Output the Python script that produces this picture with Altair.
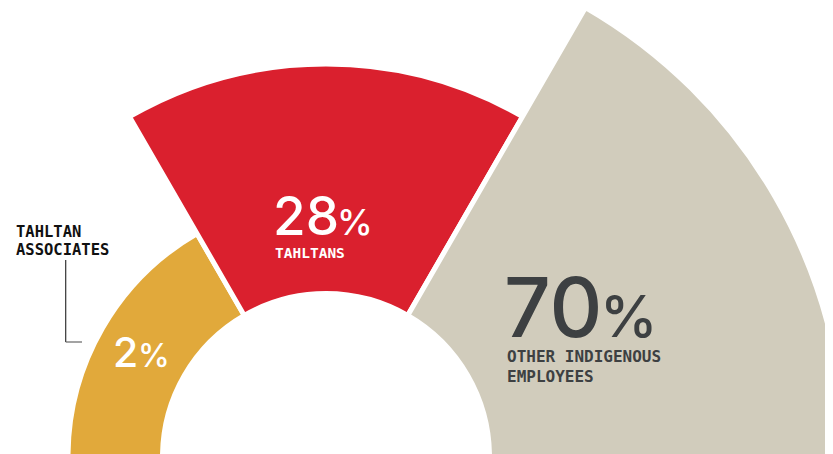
import math
import altair as alt
import pandas as pd

# ---- data ----
categories = ["Tahltan Associates", "Tahltans", "Other Indigenous Employees"]
values = [2, 28, 70]
names = ["TAHLTAN\nASSOCIATES", "TAHLTANS", "OTHER INDIGENOUS\nEMPLOYEES"]
colors = ["#E1A93B", "#DA202E", "#D1CCBC"]

df = pd.DataFrame({
    "category": categories,
    "value": values,
    "num": [str(v) for v in values],
    "pct": ["%"] * 3,
    "name": names,
    "order": [0, 1, 2],
    "slot": [1, 1, 1],
})

CX, CY = 318, 449
NUM_FONT = "Inter"
MONO = "DejaVu Sans Mono"

base = alt.Chart(df)

arcs = base.transform_window(
    end="sum(slot)", sort=[alt.SortField("order")], frame=[None, 0]
).transform_calculate(
    start="datum.end - datum.slot"
).mark_arc(innerRadius=163.5, stroke="white", strokeWidth=5).encode(
    theta=alt.Theta("start:Q",
                    scale=alt.Scale(domain=[0, 3], range=[-math.pi / 2, math.pi / 2])),
    theta2="end:Q",
    radius=alt.Radius("value:Q",
                      scale=alt.Scale(type="linear", zero=False,
                                      domain=[2, 28, 70], range=[258, 393, 519])),
    color=alt.Color("category:N", scale=alt.Scale(domain=categories, range=colors),
                    legend=None),
    x=alt.value(CX),
    y=alt.value(CY),
)


def txt(cat, field, x, y, size, color, font, weight=500, line_height=None):
    kw = dict(align="left", baseline="alphabetic", fontSize=size, font=font,
              fontWeight=weight, color=color, lineBreak="\n")
    if line_height:
        kw["lineHeight"] = line_height
    return base.transform_filter(alt.datum.category == cat).mark_text(**kw).encode(
        text=alt.Text(f"{field}:N"), x=alt.value(x), y=alt.value(y))


DARK = "#3D4042"
layers = [
    arcs,
    # Tahltans
    txt(categories[1], "num", 265, 227, 53, "white", NUM_FONT),
    txt(categories[1], "pct", 329, 227, 36, "white", NUM_FONT),
    txt(categories[1], "name", 267, 250, 14.5, "white", MONO, "bold"),
    # Other indigenous
    txt(categories[2], "num", 496, 329, 82, DARK, NUM_FONT),
    txt(categories[2], "pct", 592, 329, 58, DARK, NUM_FONT),
    txt(categories[2], "name", 499, 354, 16, DARK, MONO, "bold", 20),
    # Associates
    txt(categories[0], "num", 105, 359, 41, "white", NUM_FONT),
    txt(categories[0], "pct", 130, 359, 32, "white", NUM_FONT),
    txt(categories[0], "name", 8, 229, 15.5, "#111111", MONO, "bold", 18),
]

leader_v = alt.Chart(df.head(1)).mark_rule(color="#333333", strokeWidth=1.2).encode(
    x=alt.value(57.7), y=alt.value(252), y2=alt.value(334))
leader_h = alt.Chart(df.head(1)).mark_rule(color="#666666", strokeWidth=1.2).encode(
    x=alt.value(57.7), x2=alt.value(74), y=alt.value(334))

chart = alt.layer(*layers, leader_v, leader_h).properties(
    width=817, height=446, autosize=alt.AutoSizeParams(type="none"), padding=0
).configure_view(stroke=None)

chart.save("out.html", embed_options={"renderer": "svg", "actions": False})
